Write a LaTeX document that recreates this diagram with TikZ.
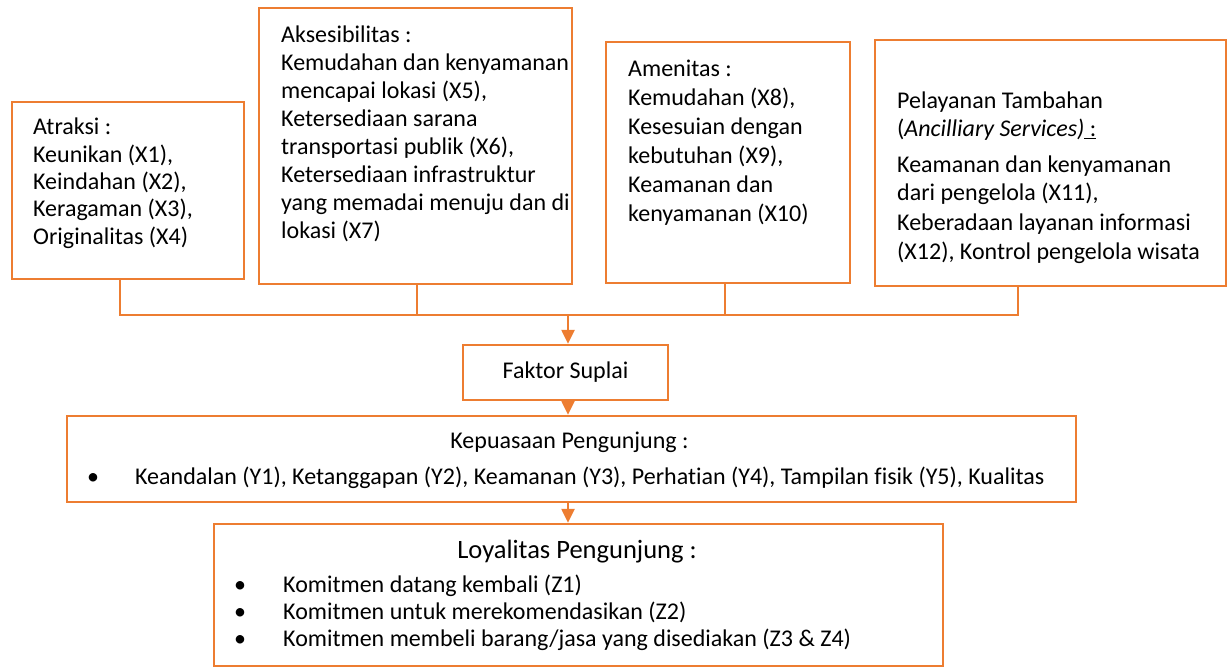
\documentclass[tikz,border=0pt]{standalone}
\usepackage{fontspec}
\setmainfont{Carlito}[Ligatures=NoCommon]
\usetikzlibrary{arrows.meta,positioning}
\definecolor{suplai}{HTML}{ED7D31}

\begin{document}
\begin{tikzpicture}[x=1pt,y=-1pt,
    every node/.style={font=\fontsize{24}{29}\selectfont},
    box/.style={draw=suplai,line width=2.4pt,inner sep=0pt},
    txt/.style={anchor=base west,inner sep=0pt},
    ln/.style={draw=suplai,line width=2.4pt},
    arr/.style={ln,-{Triangle[length=14pt,width=13pt]}}]
  \useasboundingbox (0,0) rectangle (1227,668);
  % empat faktor suplai
  \node[box,minimum width=232pt,minimum height=177pt] (atraksi) at (128,190.5) {};
  \foreach \i/\t in {0/{Atraksi :},1/{Keunikan (X1),},2/{Keindahan (X2),},
      3/{Keragaman (X3),},4/{Originalitas (X4)}}
    \node[txt] (atraksi-\i) at (33,{135+27.3*\i}) {\t};
  \node[box,minimum width=313pt,minimum height=276pt] (aksesibilitas) at (415.5,146) {};
  \foreach \i/\t in {0/{Aksesibilitas :},1/{Kemudahan dan kenyamanan},
      2/{mencapai lokasi (X5),},3/{Ketersediaan sarana},
      4/{transportasi publik (X6),},5/{Ketersediaan infrastruktur},
      6/{yang memadai menuju dan di},7/{lokasi (X7)}}
    \node[txt] (aksesibilitas-\i) at (281,{43+28*\i}) {\t};
  \node[box,minimum width=244pt,minimum height=241pt] (amenitas) at (728,162.5) {};
  \foreach \i/\t in {0/{Amenitas :},1/{Kemudahan (X8),},2/{Kesesuian dengan},
      3/{kebutuhan (X9),},4/{Keamanan dan},5/{kenyamanan (X10)}}
    \node[txt] (amenitas-\i) at (628,{77+29*\i}) {\t};
  \node[box,minimum width=351pt,minimum height=246pt] (pelayanan) at (1050.5,163) {};
  \foreach \y/\t in {109/{Pelayanan Tambahan},
      137/{(\textit{Ancilliary Services)}\underline{ :}},
      173/{Keamanan dan kenyamanan},201/{dari pengelola (X11),},
      231/{Keberadaan layanan informasi},260/{(X12), Kontrol pengelola wisata}}
    \node[txt] (pelayanan-\y) at (897,\y) {\t};

  % garis pengumpul
  \coordinate (busKiri) at (120,315);
  \coordinate (busB) at (417,315);
  \coordinate (busC) at (725,315);
  \coordinate (busKanan) at (1018,315);
  \coordinate (busTengah) at (568,315);
  \draw[ln] (atraksi.south -| busKiri) -- (busKiri) -- (busKanan) -- (pelayanan.south -| busKanan);
  \draw[ln] (aksesibilitas.south -| busB) -- (busB);
  \draw[ln] (amenitas.south -| busC) -- (busC);

  \node[box,minimum width=205pt,minimum height=55pt] (faktor) at (565.5,372.5) {Faktor Suplai};
  \draw[arr] (busTengah) -- (faktor.north -| busTengah);

  % kepuasaan
  \node[box,minimum width=1009pt,minimum height=86pt] (kepuasaan) at (571.5,459) {};
  \node[txt,anchor=base] (kepuasaan-judul) at (569.5,449) {Kepuasaan Pengunjung :};
  \node[txt,anchor=base] (kepuasaan-titik) at (93,484) {\textbullet};
  \node[txt] (kepuasaan-isi) at (135,484)
    {Keandalan (Y1), Ketanggapan (Y2), Keamanan (Y3), Perhatian (Y4), Tampilan fisik (Y5), Kualitas};
  \draw[arr] (faktor.south -| busTengah) -- (kepuasaan.north -| busTengah);

  % loyalitas
  \node[box,minimum width=729pt,minimum height=142pt] (loyalitas) at (578.5,595) {};
  \node[txt,anchor=base,font=\fontsize{26.5}{31}\selectfont] (loyalitas-judul) at (577,558)
    {Loyalitas Pengunjung :};
  \foreach \i/\t in {0/{Komitmen datang kembali (Z1)},1/{Komitmen untuk merekomendasikan (Z2)},
      2/{Komitmen membeli barang/jasa yang disediakan (Z3 \& Z4)}} {
    \node[txt,anchor=base] (loyalitas-titik-\i) at (240,{592+27*\i}) {\textbullet};
    \node[txt] (loyalitas-\i) at (283,{592+27*\i}) {\t};
  }
  \draw[arr] (kepuasaan.south -| busTengah) -- (loyalitas.north -| busTengah);
\end{tikzpicture}
\end{document}
